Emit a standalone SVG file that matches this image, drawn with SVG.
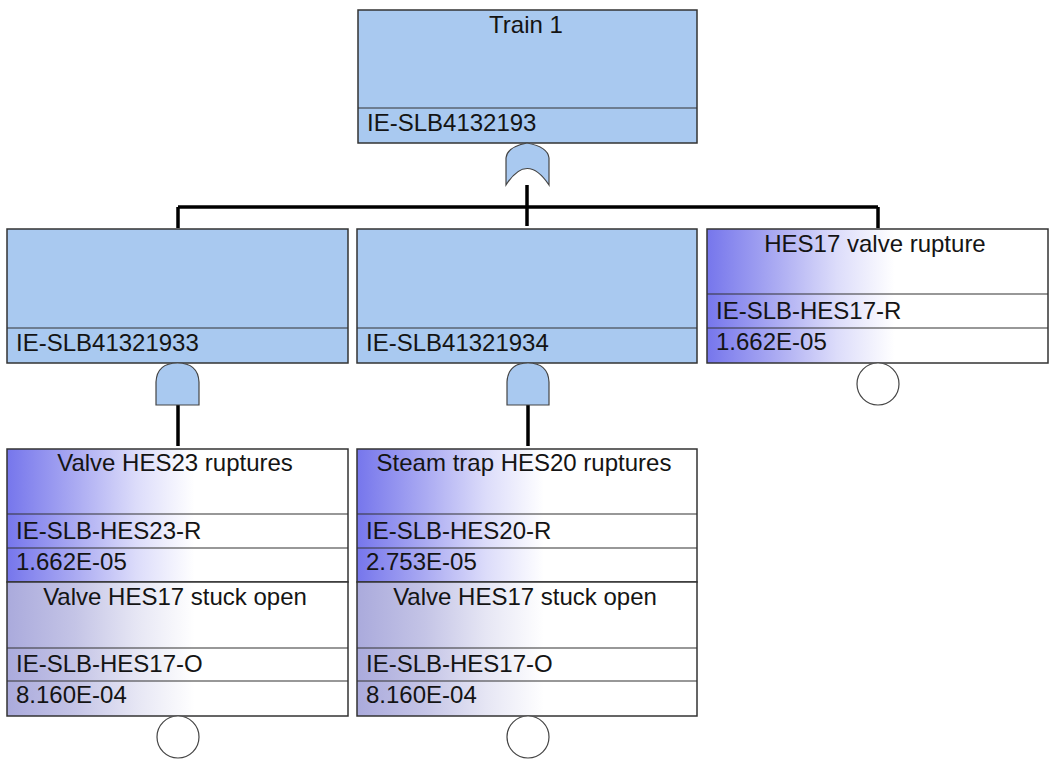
<svg xmlns="http://www.w3.org/2000/svg" width="1050" height="760" viewBox="0 0 1050 760">
<defs>
<linearGradient id="gEv1" x1="0" y1="0" x2="1" y2="0">
<stop offset="0" stop-color="#7676ec"/>
<stop offset="0.2" stop-color="#aaaaf2"/>
<stop offset="0.38" stop-color="#dcdcfa"/>
<stop offset="0.55" stop-color="#ffffff"/>
<stop offset="1" stop-color="#ffffff"/>
</linearGradient>
<linearGradient id="gEv2" x1="0" y1="0" x2="1" y2="0">
<stop offset="0" stop-color="#aaaadc"/>
<stop offset="0.2" stop-color="#c4c4e6"/>
<stop offset="0.38" stop-color="#e6e6f4"/>
<stop offset="0.55" stop-color="#ffffff"/>
<stop offset="1" stop-color="#ffffff"/>
</linearGradient>
<style>
.t{font-family:"Liberation Sans",Arial,sans-serif;font-size:24px;fill:#141414}
.c{text-anchor:middle}
.box{stroke:#333;stroke-width:1.5}
.gate{fill:#a9c9f0;stroke:#444;stroke-width:1.2}
.div{stroke:#333;stroke-width:1.2}
.cir{fill:#fff;stroke:#444;stroke-width:1.2}
.ln{stroke:#000;stroke-width:3.5;fill:none}
</style>
</defs>
<rect width="1050" height="760" fill="#fff"/>

<g id="connectors">
<path class="ln" d="M527,185 V226"/>
<path class="ln" d="M178,207 H878"/>
<path class="ln" d="M178,207 V228"/>
<path class="ln" d="M878,207 V228"/>
<path class="ln" d="M178,405 V446"/>
<path class="ln" d="M528,405 V446"/>
</g>

<g id="train1">
<rect class="box" x="358" y="10" width="339" height="133" fill="#a9c9f0"/>
<line class="div" x1="358" y1="108" x2="697" y2="108"/>
<text class="t c" x="526" y="33">Train 1</text>
<text class="t" x="367" y="131">IE-SLB4132193</text>
<path class="gate" d="M506,185 L506,158 Q507,147 527,143 Q548,147 549,158 L549,185 Q527,152 506,185 Z"/>
</g>

<g id="g1933">
<rect class="box" x="7" y="229" width="341" height="134" fill="#a9c9f0"/>
<line class="div" x1="7" y1="328" x2="348" y2="328"/>
<text class="t" x="16" y="351">IE-SLB41321933</text>
<path class="gate" d="M156,405 L156,382 Q157,363 177.5,363 Q198,363 199,382 L199,405 Z"/>
</g>

<g id="g1934">
<rect class="box" x="357" y="229" width="340" height="134" fill="#a9c9f0"/>
<line class="div" x1="357" y1="328" x2="697" y2="328"/>
<text class="t" x="366" y="351">IE-SLB41321934</text>
<path class="gate" d="M507,405 L507,382 Q508,363 528,363 Q548,363 549,382 L549,405 Z"/>
</g>

<g id="hes17r">
<rect class="box" x="707" y="229" width="341" height="134" fill="url(#gEv1)"/>
<line class="div" x1="707" y1="294" x2="1048" y2="294"/>
<line class="div" x1="707" y1="328" x2="1048" y2="328"/>
<text class="t c" x="875" y="252">HES17 valve rupture</text>
<text class="t" x="716" y="319">IE-SLB-HES17-R</text>
<text class="t" x="716" y="350">1.662E-05</text>
<circle class="cir" cx="878" cy="384" r="21"/>
</g>

<g id="hes23r">
<rect class="box" x="7" y="449" width="341" height="133" fill="url(#gEv1)"/>
<line class="div" x1="7" y1="514" x2="348" y2="514"/>
<line class="div" x1="7" y1="548" x2="348" y2="548"/>
<text class="t c" x="175" y="471">Valve HES23 ruptures</text>
<text class="t" x="16" y="539">IE-SLB-HES23-R</text>
<text class="t" x="16" y="570">1.662E-05</text>
</g>

<g id="hes17o-a">
<rect class="box" x="7" y="582" width="341" height="134" fill="url(#gEv2)"/>
<line class="div" x1="7" y1="648" x2="348" y2="648"/>
<line class="div" x1="7" y1="681" x2="348" y2="681"/>
<text class="t c" x="175" y="605">Valve HES17 stuck open</text>
<text class="t" x="16" y="672">IE-SLB-HES17-O</text>
<text class="t" x="16" y="703">8.160E-04</text>
<circle class="cir" cx="178" cy="737" r="21"/>
</g>

<g id="hes20r">
<rect class="box" x="357" y="449" width="340" height="133" fill="url(#gEv1)"/>
<line class="div" x1="357" y1="514" x2="697" y2="514"/>
<line class="div" x1="357" y1="548" x2="697" y2="548"/>
<text class="t c" x="524" y="471">Steam trap HES20 ruptures</text>
<text class="t" x="366" y="539">IE-SLB-HES20-R</text>
<text class="t" x="366" y="570">2.753E-05</text>
</g>

<g id="hes17o-b">
<rect class="box" x="357" y="582" width="340" height="134" fill="url(#gEv2)"/>
<line class="div" x1="357" y1="648" x2="697" y2="648"/>
<line class="div" x1="357" y1="681" x2="697" y2="681"/>
<text class="t c" x="525" y="605">Valve HES17 stuck open</text>
<text class="t" x="366" y="672">IE-SLB-HES17-O</text>
<text class="t" x="366" y="703">8.160E-04</text>
<circle class="cir" cx="528" cy="737" r="21"/>
</g>
</svg>
